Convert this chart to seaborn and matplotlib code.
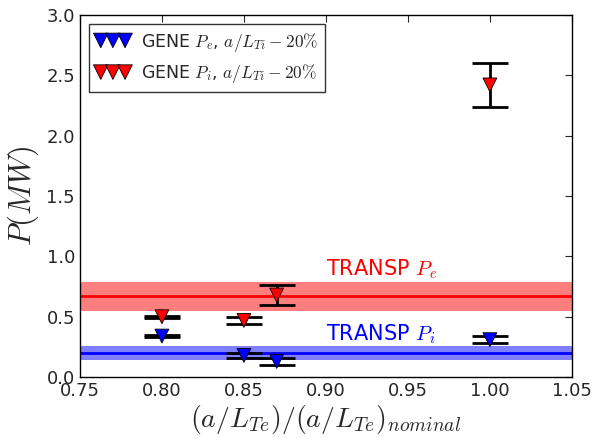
import numpy as np
import matplotlib
matplotlib.use("Agg")
import matplotlib.pyplot as plt
import seaborn as sns
import pandas as pd

# data
x_vals = [0.80, 0.85, 0.87, 1.00]
pe_vals = [0.34, 0.18, 0.13, 0.31]
pe_err = [0.01, 0.02, 0.03, 0.03]
pi_vals = [0.50, 0.47, 0.68, 2.42]
pi_err = [0.01, 0.03, 0.08, 0.18]

transp_pe = 0.67
transp_pe_band = [0.55, 0.79]
transp_pi = 0.20
transp_pi_band = [0.14, 0.26]

sns.set_style("white")
plt.rcParams["font.family"] = ["DejaVu Sans"]
plt.rcParams["mathtext.fontset"] = "cm"
plt.rcParams["xtick.direction"] = "in"
plt.rcParams["ytick.direction"] = "in"

df = pd.DataFrame({
    "x": x_vals + x_vals,
    "P": pe_vals + pi_vals,
    "err": pe_err + pi_err,
    "kind": ["Pe"] * 4 + ["Pi"] * 4,
})

fig = plt.figure(figsize=(5.92, 4.38), dpi=100)
ax = fig.add_axes([0.135, 0.139, 0.831, 0.827])

# TRANSP bands
ax.axhspan(transp_pe_band[0], transp_pe_band[1], color="red", alpha=0.5, lw=0)
ax.axhline(transp_pe, color="red", lw=2)
ax.axhspan(transp_pi_band[0], transp_pi_band[1], color="blue", alpha=0.5, lw=0)
ax.axhline(transp_pi, color="blue", lw=2)

# error bars
ax.errorbar(df["x"], df["P"], yerr=df["err"], fmt="none", ecolor="black",
            elinewidth=2, capsize=13, capthick=2, zorder=3)

sns.scatterplot(data=df, x="x", y="P", hue="kind",
                palette={"Pe": "blue", "Pi": "red"}, marker="v", s=100,
                edgecolor="black", linewidth=0.6, legend=False, zorder=4, ax=ax)

# legend handles
h1 = ax.scatter([], [], marker="v", s=110, c="blue", edgecolors="black", linewidths=0.6)
h2 = ax.scatter([], [], marker="v", s=110, c="red", edgecolors="black", linewidths=0.6)
leg = ax.legend([h1, h2],
                [r"GENE $P_e$, $a/L_{Ti}-20\%$", r"GENE $P_i$, $a/L_{Ti}-20\%$"],
                loc="upper left", scatterpoints=3, fontsize=12.5, frameon=True,
                fancybox=False, edgecolor="black", handletextpad=0.6,
                scatteryoffsets=[0.5, 0.5, 0.5], borderaxespad=0.5)
leg.get_frame().set_linewidth(1.0)

ax.text(0.90, 0.84, r"TRANSP $P_e$", color="red", fontsize=15)
ax.text(0.90, 0.30, r"TRANSP $P_i$", color="blue", fontsize=15)

ax.set_xlim(0.75, 1.05)
ax.set_ylim(0.0, 3.0)
ax.set_xticks(np.arange(0.75, 1.051, 0.05))
ax.set_yticks(np.arange(0.0, 3.01, 0.5))
ax.tick_params(labelsize=13, top=True, right=True, length=5)
ax.set_xlabel(r"$(a/L_{Te})/(a/L_{Te})_{nominal}$", fontsize=20, labelpad=2)
ax.set_ylabel(r"$P(MW)$", fontsize=22)
for s in ax.spines.values():
    s.set_color("black")
    s.set_linewidth(1.0)

fig.savefig("out.png", dpi=100)
